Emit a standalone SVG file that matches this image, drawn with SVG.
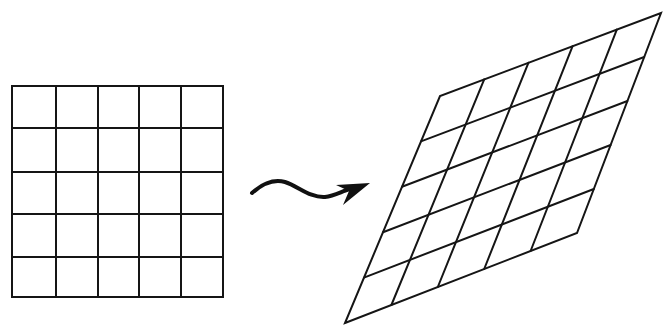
<svg xmlns="http://www.w3.org/2000/svg" width="663" height="333" viewBox="0 0 663 333">
<style>
.g{stroke:#151515;stroke-width:2;fill:none;stroke-linecap:round}
.a{stroke:#111;stroke-width:4;fill:none;stroke-linecap:round}
</style>
<rect width="663" height="333" fill="#fff"/>
<g id="square-grid" class="g">
<rect x="12" y="86" width="211" height="211"/>
<line x1="56" y1="86" x2="56" y2="297"/>
<line x1="98" y1="86" x2="98" y2="297"/>
<line x1="139" y1="86" x2="139" y2="297"/>
<line x1="181" y1="86" x2="181" y2="297"/>
<line x1="12" y1="128" x2="223" y2="128"/>
<line x1="12" y1="172" x2="223" y2="172"/>
<line x1="12" y1="214" x2="223" y2="214"/>
<line x1="12" y1="257" x2="223" y2="257"/>
</g>
<g id="sheared-grid" class="g">
<polygon points="345,323 577,233 661,13 440,96"/>
<line x1="391.4" y1="305" x2="484.2" y2="79.4"/>
<line x1="437.8" y1="287" x2="528.4" y2="62.8"/>
<line x1="484.2" y1="269" x2="572.6" y2="46.2"/>
<line x1="530.6" y1="251" x2="616.8" y2="29.6"/>
<line x1="364" y1="277.6" x2="593.8" y2="189"/>
<line x1="383" y1="232.2" x2="610.6" y2="145"/>
<line x1="402" y1="186.8" x2="627.4" y2="101"/>
<line x1="421" y1="141.4" x2="644.2" y2="57"/>
</g>
<g id="connectors">
<path class="a" d="M252,193 C262,184 274,179 285,182 C298,186 310,198 325,197 C335,196 342,191 350,189"/>
<polygon points="370,183 336,185 349,191 343,205" fill="#111"/>
</g>
</svg>
